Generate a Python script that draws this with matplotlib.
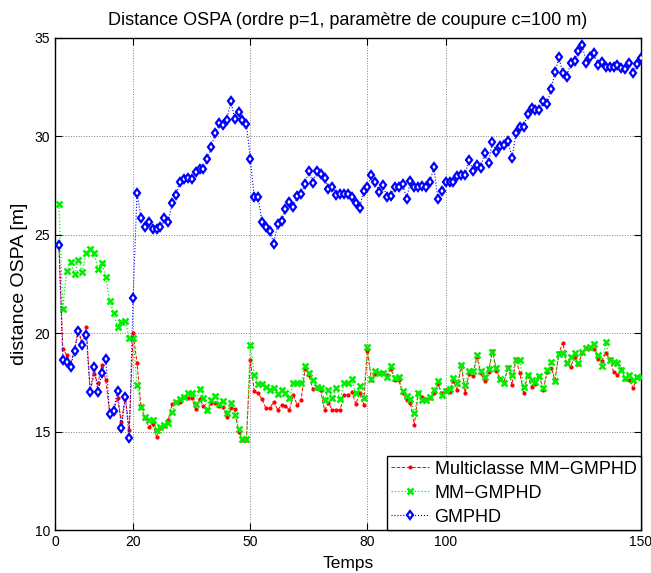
import numpy as np
import matplotlib
matplotlib.use("Agg")
import matplotlib.pyplot as plt

plt.rcParams['font.family'] = ['Liberation Sans', 'DejaVu Sans']

# =====================
# Data, t = 1..150
# =====================
temps = np.arange(1, 151)

multiclasse = [
    24.5, 19.2, 18.9, 18.4, 19.2, 20.2, 19.4, 20.3, 17.03, 17.91,
    17.45, 18.38, 17.6, 15.93, 16.1, 16.69, 15.5, 16.77, 15.08, 19.99,
    18.5, 16.3, 15.7, 15.25, 15.4, 14.75, 15.2, 15.3, 15.6, 16.4,
    16.5, 16.52, 16.77, 16.69, 16.69, 16.15, 16.66, 16.3, 16.1, 16.44,
    16.44, 16.3, 16.23, 15.72, 16.18, 16.15, 15.0, 14.57, 14.57, 18.64,
    17.06, 16.94, 16.64, 16.18, 16.18, 16.52, 16.1, 16.35, 16.3, 16.1,
    16.86, 16.35, 16.6, 18.16, 17.88, 17.15, 17.2, 17.11, 16.1, 16.44,
    16.1, 16.1, 16.1, 16.86, 16.86, 17.0, 16.4, 16.94, 16.35, 19.11,
    17.62, 17.93, 17.96, 17.99, 17.88, 18.18, 17.62, 17.62, 16.98, 16.6,
    16.44, 15.34, 16.98, 16.77, 16.64, 16.69, 16.94, 17.42, 16.94, 17.11,
    17.03, 17.59, 17.11, 18.38, 16.98, 17.93, 17.83, 18.81, 17.96, 17.57,
    18.04, 19.1, 18.08, 17.66, 17.54, 18.3, 17.37, 18.69, 17.96, 16.98,
    17.88, 17.28, 17.42, 17.83, 17.11, 18.04, 18.25, 17.62, 18.98, 19.52,
    18.47, 18.3, 18.77, 18.42, 18.98, 19.23, 19.26, 19.2, 18.69, 18.6,
    18.98, 18.67, 18.04, 17.88, 18.16, 17.66, 17.62, 17.2, 17.79, 17.79,
]

mm_gmphd = [
    26.55, 21.23, 23.18, 23.63, 23.0, 23.72, 23.13, 24.09, 24.26, 24.06,
    23.25, 23.55, 22.84, 21.64, 21.01, 20.3, 20.59, 20.64, 19.74, 19.74,
    17.37, 16.27, 15.73, 15.59, 15.59, 15.08, 15.22, 15.34, 15.42, 16.01,
    16.52, 16.64, 16.77, 16.98, 16.94, 16.4, 17.16, 16.72, 16.1, 16.6,
    16.81, 16.4, 16.55, 15.96, 16.47, 15.84, 15.12, 14.61, 14.61, 19.42,
    17.88, 17.42, 17.42, 17.25, 17.11, 17.23, 16.89, 17.11, 16.98, 16.72,
    17.45, 17.45, 17.45, 18.35, 17.96, 17.62, 17.28, 17.23, 16.6, 17.11,
    16.69, 17.23, 16.64, 17.45, 17.49, 17.66, 16.94, 17.32, 16.72, 19.28,
    17.66, 18.1, 17.96, 17.99, 17.76, 18.35, 17.71, 17.76, 17.08, 16.83,
    16.66, 15.96, 16.94, 16.6, 16.6, 16.77, 17.11, 17.59, 16.84, 17.06,
    17.15, 17.71, 17.49, 18.38, 17.37, 18.08, 18.08, 18.89, 18.1, 17.76,
    18.2, 19.03, 18.25, 17.66, 17.49, 18.25, 17.88, 18.64, 18.64, 17.28,
    17.88, 17.62, 17.54, 17.83, 17.2, 18.13, 18.55, 17.57, 18.93, 19.01,
    18.47, 18.77, 18.98, 18.5, 19.03, 19.23, 19.28, 19.45, 18.89, 18.33,
    19.54, 18.64, 18.55, 18.47, 18.13, 17.71, 17.88, 17.62, 17.79, 17.76,
]

gmphd = [
    24.5, 18.64, 18.52, 18.3, 19.1, 20.1, 19.4, 19.9, 17.03, 18.3,
    17.03, 17.96, 18.69, 15.88, 16.06, 17.08, 15.17, 16.77, 14.66, 21.8,
    27.14, 25.87, 25.38, 25.63, 25.3, 25.3, 25.41, 25.84, 25.67, 26.6,
    27.04, 27.7, 27.82, 27.89, 27.84, 28.18, 28.34, 28.33, 28.85, 29.44,
    30.15, 30.66, 30.58, 30.83, 31.81, 30.88, 31.22, 30.83, 30.63, 28.83,
    26.89, 26.89, 25.67, 25.41, 25.21, 24.53, 25.53, 25.7, 26.31, 26.68,
    26.43, 26.97, 27.07, 27.58, 28.26, 27.62, 28.26, 28.09, 27.9, 27.33,
    27.44, 27.02, 27.07, 27.05, 27.05, 26.9, 26.63, 26.34, 27.22, 27.43,
    28.04, 27.67, 27.19, 27.5, 26.9, 26.97, 27.44, 27.41, 27.58, 26.82,
    27.73, 27.41, 27.41, 27.48, 27.41, 27.7, 28.43, 26.8, 27.24, 27.67,
    27.7, 27.7, 27.99, 28.04, 28.04, 28.8, 28.26, 28.55, 28.41, 29.17,
    28.66, 29.73, 29.22, 29.53, 29.56, 29.77, 28.89, 30.15, 30.49, 30.49,
    31.14, 31.43, 31.34, 31.34, 31.8, 31.65, 32.39, 33.24, 34.02, 33.2,
    33.03, 33.71, 33.83, 34.34, 34.63, 33.71, 34.05, 34.22, 33.61, 33.75,
    33.54, 33.5, 33.5, 33.63, 33.46, 33.42, 33.71, 33.2, 33.68, 34.0,
]

xticks = [0, 20, 50, 80, 100, 150]
yticks = [10, 15, 20, 25, 30, 35]

# =====================
# Figure
# =====================
fig = plt.figure(figsize=(6.51, 5.73), dpi=100)
ax = fig.add_axes([0.0845, 0.075, 0.9, 0.859])

ax.plot(temps, multiclasse, color='red', linestyle='--', linewidth=0.7,
        marker='.', markersize=4, label='Multiclasse MM\u2212GMPHD', zorder=3)
ax.plot(temps, mm_gmphd, color='#00ee00', linestyle=':', linewidth=0.9,
        marker='x', markersize=4, markeredgewidth=1.8, label='MM\u2212GMPHD', zorder=4)
ax.plot(temps, gmphd, color='blue', linestyle=':', linewidth=0.8,
        marker='d', markersize=4.5, markeredgewidth=1.6, markerfacecolor='white',
        label='GMPHD', zorder=5)

ax.set_xlim(0, 150)
ax.set_ylim(10, 35)
ax.set_xticks(xticks)
ax.set_yticks(yticks)
ax.tick_params(direction='in', length=5, width=0.8, labelsize=10,
               top=True, right=True)
ax.grid(True, linestyle=':', color='black', linewidth=0.7, alpha=0.5)
for sp in ax.spines.values():
    sp.set_linewidth(1.0)

ax.set_title('Distance OSPA (ordre p=1, paramètre de coupure c=100 m)',
             fontsize=13, pad=9)
ax.set_xlabel('Temps', fontsize=12.5, labelpad=5)
ax.set_ylabel('distance OSPA [m]', fontsize=14, labelpad=5)

leg = ax.legend(loc='lower right', fontsize=13, fancybox=False, framealpha=1,
                edgecolor='black', borderaxespad=0, handlelength=2.1,
                handletextpad=0.3, borderpad=0.25, labelspacing=0.38)
leg.get_frame().set_linewidth(1.0)

plt.savefig('out.png', dpi=100)
